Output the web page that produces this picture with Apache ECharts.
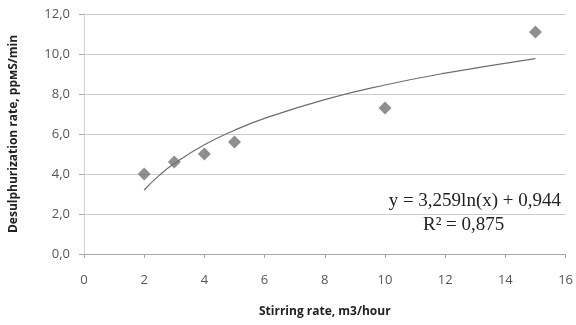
<!DOCTYPE html>
<html><head><meta charset="utf-8">
<script src="https://cdn.jsdelivr.net/npm/echarts@6/dist/echarts.min.js"></script>
<style>html,body{margin:0;padding:0;background:#fff}#c{width:576px;height:325px}</style>
</head><body><div id="c"></div>
<script>
const stirringRates = [2, 3, 4, 5, 10, 15];
const desulphRates = [4.0, 4.6, 5.0, 5.6, 7.3, 11.1];
const trendX = [2, 2.5, 3, 4, 5, 6, 8, 10, 12, 15];
const trendY = [3.20, 3.93, 4.52, 5.46, 6.19, 6.78, 7.72, 8.45, 9.04, 9.77];
const equationText = 'y = 3,259ln(x) + 0,944';
const r2Text = 'R² = 0,875';

const chart = echarts.init(document.getElementById('c'));
const fmt = v => v.toFixed(1).replace('.', ',');
chart.setOption({
  animation: false,
  grid: {left: 83, right: 9, top: 14, bottom: 71},
  xAxis: {
    type: 'value', min: 0, max: 16, interval: 2,
    name: 'Stirring rate, m3/hour', nameLocation: 'middle', nameGap: 52,
    nameTextStyle: {fontFamily: 'Open Sans', fontWeight: 'bold', fontSize: 12, color: '#222'},
    axisLine: {lineStyle: {color: '#a6a6a6'}},
    axisTick: {show: true, length: 4, lineStyle: {color: '#a6a6a6'}},
    axisLabel: {fontFamily: 'Open Sans', fontSize: 13, color: '#555', margin: 20},
    splitLine: {show: false}
  },
  yAxis: {
    type: 'value', min: 0, max: 12, interval: 2,
    name: 'Desulphurization rate, ppмS/min', nameLocation: 'middle', nameGap: 64,
    nameTextStyle: {fontFamily: 'Open Sans', fontWeight: 'bold', fontSize: 12, color: '#222'},
    axisLine: {show: true, lineStyle: {color: '#d0d0d0'}},
    axisTick: {show: true, length: 5, lineStyle: {color: '#a6a6a6'}},
    axisLabel: {fontFamily: 'Open Sans', fontSize: 13, color: '#555', margin: 14, formatter: fmt},
    splitLine: {lineStyle: {color: '#cccccc'}}
  },
  series: [
    {
      type: 'scatter', symbol: 'diamond', symbolSize: 13,
      itemStyle: {color: '#737373'},
      data: stirringRates.map((x, i) => [x, desulphRates[i]]), z: 3
    },
    {
      type: 'line', smooth: true, showSymbol: false,
      lineStyle: {color: '#6e6e6e', width: 1.2},
      data: trendX.map((x, i) => [x, trendY[i]]), z: 2
    }
  ],
  graphic: [
    {type: 'text', right: 15, top: 192, style: {text: equationText, font: '19px "Liberation Serif"', fill: '#222'}},
    {type: 'text', left: 423, top: 216, style: {text: r2Text, font: '19px "Liberation Serif"', fill: '#222'}}
  ]
});
</script></body></html>
